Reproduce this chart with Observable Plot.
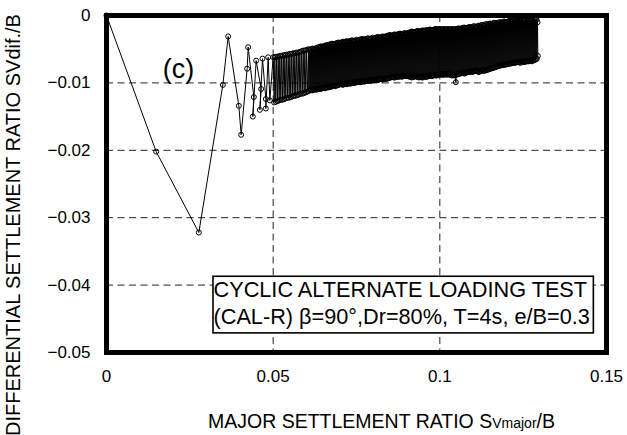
<!DOCTYPE html>
<html><head><meta charset="utf-8">
<script src="https://cdn.jsdelivr.net/npm/d3@7"></script>
<script src="https://cdn.jsdelivr.net/npm/@observablehq/plot@0.6"></script>
<style>body{margin:0;background:#fff} svg{display:block}</style>
</head><body><div id="chart"></div>
<script>
const xTicks = [0, 0.05, 0.1, 0.15];
const xTickLabels = ["0", "0.05", "0.1", "0.15"];
const yTicks = [0, -0.01, -0.02, -0.03, -0.04, -0.05];
const yTickLabels = ["0", "\u22120.01", "\u22120.02", "\u22120.03", "\u22120.04", "\u22120.05"];
const xGrid = [0.05, 0.1];
const yGrid = [-0.01, -0.02, -0.03, -0.04];
const panelLabel = "(c)";
const legendText = "CYCLIC ALTERNATE LOADING TEST\n(CAL-R) \u03b2=90\u00b0,Dr=80%, T=4s, e/B=0.3";
const xTitle = ["MAJOR SETTLEMENT RATIO S", "Vmajor", "/B"];
const yTitle = "DIFFERENTIAL SETTLEMENT RATIO SVdif./B";

// SVmajor/B
const settleMajor = [
 0, .0149, .0277, .0349, .0365, .0397, .0404, .0422, .0425, .0442, .0439, .0449, .0464, .0460, .0468, .0478, .0478, .0485, .0490,
 .0500, .0503, .0505, .0508, .0510, .0513, .0515, .0518, .0520, .0523, .0525, .0528, .0530, .0533, .0535, .0538, .0540, .0543, .0545, .0548, .0550,
 .0553, .0555, .0558, .0560, .0563, .0565, .0568, .0570, .0573, .0575, .0578, .0580, .0583, .0585, .0588, .0590, .0593, .0595, .0598, .0600, .0603,
 .0606, .0607, .0609, .0610, .0612, .0613, .0615, .0616, .0618, .0619, .0621, .0622, .0624, .0625, .0627, .0628, .0630, .0631, .0633, .0634,
 .0636, .0637, .0639, .0640, .0642, .0643, .0645, .0646, .0648, .0649, .0651, .0652, .0654, .0655, .0657, .0658, .0660, .0661, .0663, .0664,
 .0666, .0667, .0669, .0670, .0672, .0673, .0675, .0676, .0678, .0679, .0681, .0682, .0684, .0685, .0687, .0688, .0690, .0691, .0693, .0694,
 .0696, .0697, .0699, .0700, .0702, .0703, .0705, .0706, .0708, .0709, .0711, .0712, .0714, .0715, .0717, .0718, .0720, .0721, .0723, .0724,
 .0726, .0727, .0729, .0730, .0732, .0733, .0735, .0736, .0738, .0739, .0741, .0742, .0744, .0745, .0747, .0748, .0750, .0751, .0753, .0754,
 .0756, .0757, .0759, .0760, .0762, .0763, .0765, .0766, .0768, .0769, .0771, .0772, .0774, .0775, .0777, .0778, .0780, .0781, .0783, .0784,
 .0786, .0787, .0789, .0790, .0792, .0793, .0795, .0796, .0798, .0799, .0801, .0802, .0804, .0805, .0807, .0808, .0810, .0811, .0813, .0814,
 .0816, .0817, .0819, .0820, .0822, .0823, .0825, .0826, .0828, .0829, .0831, .0832, .0834, .0835, .0837, .0838, .0840, .0841, .0843, .0844,
 .0846, .0847, .0849, .0850, .0852, .0853, .0855, .0856, .0858, .0859, .0861, .0862, .0864, .0865, .0867, .0868, .0870, .0871, .0873, .0874,
 .0876, .0877, .0879, .0880, .0882, .0883, .0885, .0886, .0888, .0889, .0891, .0892, .0894, .0895, .0897, .0898, .0900, .0901, .0903, .0904,
 .0906, .0907, .0909, .0910, .0912, .0913, .0915, .0916, .0918, .0919, .0921, .0922, .0924, .0925, .0927, .0928, .0930, .0931, .0933, .0934,
 .0936, .0937, .0939, .0940, .0942, .0943, .0945, .0946, .0948, .0949, .0951, .0952, .0954, .0955, .0957, .0958, .0960, .0961, .0963, .0964,
 .0966, .0967, .0969, .0970, .0972, .0973, .0975, .0976, .0978, .0979, .0981, .0982, .0984, .0985, .0987, .0988, .0990, .0991, .0993, .0994,
 .0996, .0997, .0999, .1000, .1002, .1003, .1005, .1006, .1008, .1009, .1011, .1012, .1014, .1015, .1017, .1018, .1020, .1021, .1023, .1024,
 .1026, .1027, .1029, .1030, .1032, .1033, .1035, .1036, .1038, .1039, .1041, .1042, .1044, .1045, .1047, .1048, .1050, .1051, .1053, .1054,
 .1056, .1057, .1059, .1060, .1062, .1063, .1065, .1066, .1068, .1069, .1071, .1072, .1074, .1075, .1077, .1078, .1080, .1081, .1083, .1084,
 .1086, .1087, .1089, .1090, .1092, .1093, .1095, .1096, .1098, .1099, .1101, .1102, .1104, .1105, .1107, .1108, .1110, .1111, .1113, .1114,
 .1116, .1117, .1119, .1120, .1122, .1123, .1125, .1126, .1128, .1129, .1131, .1132, .1134, .1135, .1137, .1138, .1140, .1141, .1143, .1144,
 .1146, .1147, .1149, .1150, .1152, .1153, .1155, .1156, .1158, .1159, .1161, .1162, .1164, .1165, .1167, .1168, .1170, .1171, .1173, .1174,
 .1176, .1177, .1179, .1180, .1182, .1183, .1185, .1186, .1188, .1189, .1191, .1192, .1194, .1195, .1197, .1198, .1200, .1201, .1203, .1204,
 .1206, .1207, .1209, .1210, .1212, .1213, .1215, .1216, .1218, .1219, .1221, .1222, .1224, .1225, .1227, .1228, .1230, .1231, .1233, .1234,
 .1236, .1237, .1239, .1240, .1242, .1243, .1245, .1246, .1248, .1249, .1251, .1252, .1254, .1255, .1257, .1258, .1260, .1261, .1263, .1264,
 .1266, .1267, .1269, .1270, .1272, .1273, .1275, .1276, .1278, .1279, .1281, .1282, .1284, .1285, .1287, .1288, .1290, .1291, .1293, .1294
];
// SVdif./B
const settleDif = [
 0, -.0202, -.0322, -.0103, -.0031, -.0134, -.0177, -.0079, -.0047, -.0121, -.0150, -.0067, -.0109, -.0140, -.0064, -.0124, -.0138, -.0062, -.0126,
 -.0062, -.0129, -.0062, -.0128, -.0061, -.0127, -.0061, -.0126, -.0060, -.0125, -.0060, -.0125, -.0059, -.0124, -.0059, -.0123, -.0058, -.0122, -.0058, -.0122, -.0057,
 -.0121, -.0057, -.0120, -.0056, -.0119, -.0056, -.0119, -.0055, -.0118, -.0055, -.0117, -.0054, -.0116, -.0053, -.0116, -.0052, -.0115, -.0052, -.0114, -.0051, -.0113,
 -.0050, -.0112, -.0051, -.0111, -.0051, -.0110, -.0050, -.0111, -.0049, -.0111, -.0050, -.0110, -.0050, -.0109, -.0049, -.0110, -.0048, -.0110, -.0049, -.0109,
 -.0047, -.0108, -.0047, -.0109, -.0046, -.0109, -.0046, -.0108, -.0047, -.0107, -.0046, -.0107, -.0045, -.0108, -.0045, -.0107, -.0044, -.0106, -.0044, -.0107,
 -.0044, -.0105, -.0043, -.0106, -.0043, -.0106, -.0042, -.0105, -.0042, -.0104, -.0043, -.0104, -.0043, -.0105, -.0042, -.0104, -.0041, -.0104, -.0041, -.0103,
 -.0040, -.0103, -.0041, -.0102, -.0041, -.0101, -.0040, -.0102, -.0039, -.0103, -.0039, -.0102, -.0040, -.0101, -.0039, -.0101, -.0038, -.0102, -.0039, -.0101,
 -.0039, -.0100, -.0038, -.0101, -.0038, -.0101, -.0037, -.0100, -.0037, -.0099, -.0038, -.0100, -.0038, -.0100, -.0037, -.0099, -.0036, -.0099, -.0037, -.0099,
 -.0037, -.0098, -.0036, -.0099, -.0036, -.0099, -.0035, -.0098, -.0035, -.0097, -.0036, -.0098, -.0036, -.0098, -.0035, -.0097, -.0035, -.0097, -.0034, -.0097,
 -.0034, -.0096, -.0035, -.0097, -.0035, -.0097, -.0034, -.0096, -.0033, -.0095, -.0034, -.0096, -.0034, -.0096, -.0033, -.0095, -.0033, -.0095, -.0032, -.0096,
 -.0032, -.0095, -.0033, -.0094, -.0033, -.0094, -.0032, -.0095, -.0031, -.0095, -.0032, -.0094, -.0032, -.0093, -.0031, -.0094, -.0031, -.0094, -.0030, -.0093,
 -.0030, -.0093, -.0029, -.0092, -.0029, -.0092, -.0030, -.0091, -.0030, -.0091, -.0029, -.0092, -.0028, -.0092, -.0029, -.0091, -.0029, -.0090, -.0028, -.0091,
 -.0028, -.0091, -.0027, -.0090, -.0027, -.0090, -.0028, -.0091, -.0028, -.0090, -.0027, -.0090, -.0026, -.0089, -.0027, -.0089, -.0027, -.0090, -.0026, -.0090,
 -.0026, -.0090, -.0025, -.0091, -.0025, -.0091, -.0024, -.0092, -.0024, -.0091, -.0025, -.0091, -.0025, -.0090, -.0024, -.0090, -.0024, -.0091, -.0023, -.0091,
 -.0023, -.0092, -.0024, -.0091, -.0024, -.0091, -.0023, -.0092, -.0022, -.0092, -.0023, -.0091, -.0023, -.0090, -.0022, -.0091, -.0022, -.0091, -.0022, -.0090,
 -.0022, -.0090, -.0021, -.0089, -.0021, -.0089, -.0022, -.0090, -.0022, -.0089, -.0021, -.0089, -.0021, -.0088, -.0020, -.0089, -.0020, -.0089, -.0021, -.0088,
 -.0021, -.0088, -.0020, -.0087, -.0020, -.0088, -.0021, -.0087, -.0021, -.0088, -.0020, -.0088, -.0020, -.0087, -.0021, -.0087, -.0021, -.0088, -.0020, -.0087,
 -.0020, -.0087, -.0021, -.0088, -.0021, -.0088, -.0020, -.0089, -.0020, -.0088, -.0021, -.0089, -.0021, -.0088, -.0020, -.0099, -.0020, -.0088, -.0020, -.0087,
 -.0019, -.0087, -.0020, -.0086, -.0020, -.0086, -.0019, -.0085, -.0019, -.0085, -.0018, -.0086, -.0018, -.0086, -.0019, -.0085, -.0019, -.0084, -.0018, -.0084,
 -.0018, -.0084, -.0017, -.0083, -.0017, -.0083, -.0018, -.0084, -.0018, -.0083, -.0016, -.0083, -.0016, -.0082, -.0017, -.0082, -.0017, -.0082, -.0016, -.0083,
 -.0015, -.0084, -.0016, -.0083, -.0016, -.0082, -.0014, -.0082, -.0014, -.0081, -.0015, -.0082, -.0015, -.0082, -.0013, -.0081, -.0013, -.0081, -.0014, -.0080,
 -.0013, -.0080, -.0012, -.0079, -.0012, -.0079, -.0013, -.0078, -.0013, -.0078, -.0011, -.0077, -.0011, -.0077, -.0012, -.0076, -.0012, -.0076, -.0011, -.0075,
 -.0011, -.0075, -.0010, -.0074, -.0010, -.0074, -.0011, -.0074, -.0011, -.0073, -.0009, -.0073, -.0009, -.0073, -.0010, -.0073, -.0010, -.0072, -.0009, -.0072,
 -.0009, -.0072, -.0008, -.0071, -.0008, -.0071, -.0009, -.0071, -.0009, -.0070, -.0008, -.0070, -.0008, -.0070, -.0007, -.0070, -.0007, -.0069, -.0008, -.0069,
 -.0007, -.0069, -.0008, -.0070, -.0008, -.0070, -.0006, -.0068, -.0006, -.0068, -.0007, -.0069, -.0007, -.0069, -.0006, -.0068, -.0006, -.0068, -.0007, -.0068,
 -.0006, -.0068, -.0007, -.0067, -.0007, -.0067, -.0006, -.0068, -.0006, -.0067, -.0005, -.0066, -.0005, -.0066, -.0006, -.0065, -.0006, -.0064, -.0010, -.0060
];

const pts = settleMajor.map((x, i) => ({x, y: settleDif[i]}));
const font = "'Liberation Sans', Arial, Helvetica, sans-serif";
const gridStyle = {stroke: "#222", strokeWidth: 1, strokeDasharray: "7,4.5"};

const chart = Plot.plot({
  width: 627, height: 435,
  marginLeft: 106, marginRight: 21, marginTop: 15, marginBottom: 83,
  style: {fontFamily: font, background: "#fff", color: "#000"},
  x: {domain: [0, 0.15]},
  y: {domain: [-0.05, 0]},
  marks: [
    Plot.ruleX(xGrid, gridStyle),
    Plot.ruleY(yGrid, gridStyle),
    Plot.line(pts, {x: "x", y: "y", stroke: "#000", strokeWidth: 1}),
    Plot.dot(pts, {x: "x", y: "y", r: 2.5, stroke: "#000", strokeWidth: 1, fill: "none"}),
    Plot.text([legendText], {frameAnchor: "top-left", dx: 107, dy: 262.5, textAnchor: "start", lineAnchor: "top", lineHeight: 1.25, fontSize: 21.7, fill: "#000", className: "legendbox"}),
    Plot.text([panelLabel], {frameAnchor: "top-left", dx: 72, dy: 54, textAnchor: "middle", lineAnchor: "middle", fontSize: 27, fill: "#000"}),
    Plot.text([xTitle.join("")], {frameAnchor: "bottom", dx: 25, dy: 69, textAnchor: "middle", lineAnchor: "middle", fontSize: 19.5, fill: "#000", className: "xtitle"}),
    Plot.text([yTitle], {frameAnchor: "left", rotate: -90, dx: -92.5, dy: 41, textAnchor: "middle", lineAnchor: "middle", fontSize: 20, fill: "#000"}),
    Plot.axisX({ticks: xTicks, tickFormat: d => xTickLabels[xTicks.indexOf(d)], tickSize: 0, tickPadding: 17, fontSize: 17, label: null}),
    Plot.axisY({ticks: yTicks, tickFormat: d => yTickLabels[yTicks.indexOf(d)], tickSize: 0, tickPadding: 16, fontSize: 17, label: null}),
    Plot.frame({stroke: "#000", strokeWidth: 5})
  ]
});
document.getElementById("chart").appendChild(chart);

// x title with smaller "Vmajor"
const xt = chart.querySelector(".xtitle text");
if (xt) {
  xt.textContent = "";
  const sizes = [null, 14, null];
  xTitle.forEach((s, i) => {
    const ts = document.createElementNS("http://www.w3.org/2000/svg", "tspan");
    ts.textContent = s;
    if (sizes[i]) ts.setAttribute("font-size", sizes[i]);
    xt.appendChild(ts);
  });
}
// legend box behind legend text
const lg = chart.querySelector(".legendbox");
if (lg) {
  const t = lg.querySelector("text");
  const bb = t.getBBox();
  const tr = t.getAttribute("transform") || "";
  const r = document.createElementNS("http://www.w3.org/2000/svg", "rect");
  r.setAttribute("x", bb.x - 0.5);
  r.setAttribute("y", bb.y - 1);
  r.setAttribute("width", bb.width + 4);
  r.setAttribute("height", bb.height + 4.5);
  r.setAttribute("fill", "#fff");
  r.setAttribute("stroke", "#000");
  r.setAttribute("stroke-width", 1.6);
  if (tr) r.setAttribute("transform", tr);
  lg.insertBefore(r, t);
}
</script>
</body></html>
